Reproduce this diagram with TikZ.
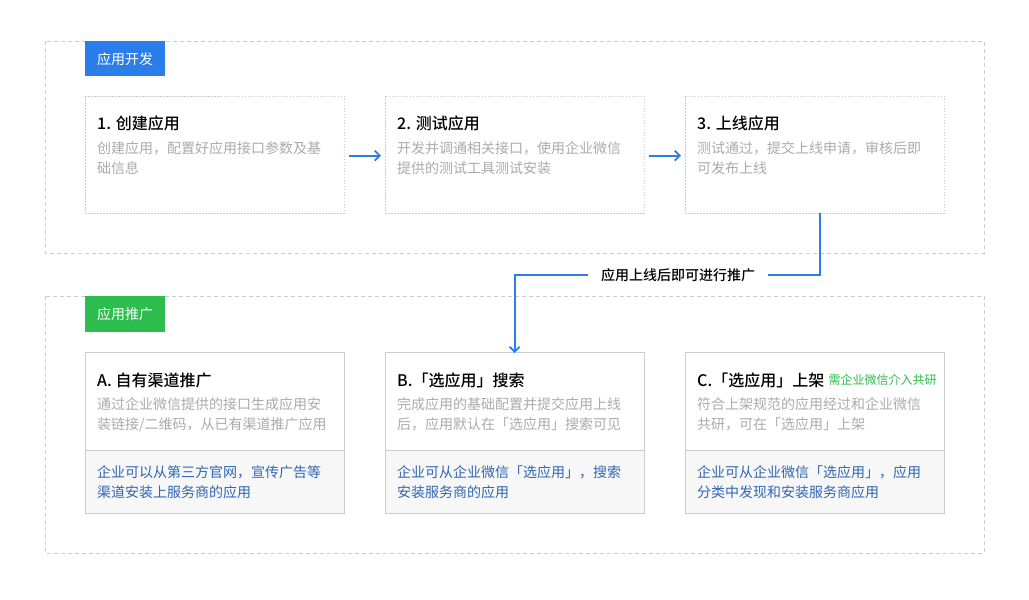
\documentclass[tikz,border=0pt]{standalone}
\usepackage{fontspec}
\setmainfont{Noto Sans CJK SC}
\newfontfamily\cjkmed{Noto Sans CJK SC Medium}
\usetikzlibrary{arrows.meta}
\definecolor{devblue}{HTML}{2B7DE9}
\definecolor{promgreen}{HTML}{2DBD4E}
\definecolor{bordergray}{HTML}{CCCCCC}
\definecolor{descgray}{HTML}{ABABAB}
\definecolor{linkblue}{HTML}{2F66B3}
\definecolor{footbg}{HTML}{F7F7F7}
\tikzset{
  x=1pt, y=-1pt,
  outerbox/.style={draw=bordergray, line width=0.8pt, dash pattern=on 4pt off 3pt},
  stepbox/.style={draw=bordergray, line width=0.7pt, dash pattern=on 1.5pt off 1.5pt},
  promobox/.style={draw=bordergray, line width=1pt},
  tag/.style={anchor=north west, minimum width=80pt, minimum height=35pt, inner sep=0pt, text=white, font=\fontsize{14}{16}\selectfont},
  ttl/.style={anchor=west, inner sep=0pt, font=\cjkmed\fontsize{16}{18}\selectfont, text=black},
  desc/.style={anchor=north west, inner sep=0pt, align=left, font=\fontsize{14}{20}\selectfont, text=descgray},
  link/.style={anchor=north west, inner sep=0pt, align=left, font=\fontsize{14}{20}\selectfont, text=linkblue},
  flow/.style={draw=devblue, line width=1.8pt, -{Straight Barb[length=5pt,width=10pt,line width=1.8pt]}},
}
\begin{document}
\begin{tikzpicture}
\useasboundingbox (0,0) rectangle (1029,600);
\fill[white] (0,0) rectangle (1029,600);

% outer sections
\draw[outerbox] (45,41) rectangle (984,253);
\draw[outerbox] (45,296) rectangle (984,553);
\node[tag, fill=devblue] (tagdev) at (85,41) {应用开发};
\node[tag, fill=promgreen, minimum height=36pt] (tagprom) at (85,296) {应用推广};

% development steps
\foreach \n/\x in {s1/85, s2/385, s3/685}{
  \draw[stepbox] (\x,96) rectangle ++(259,117);
  \node[inner sep=0pt, minimum width=259pt, minimum height=117pt, anchor=north west] (\n) at (\x,96) {};
}
\node[ttl] (s1t) at (97,123) {1. 创建应用};
\node[desc] (s1d) at (97,141) {创建应用，配置好应用接口参数及基\\础信息};
\node[ttl] (s2t) at (397,123) {2. 测试应用};
\node[desc] (s2d) at (397,141) {开发并调通相关接口，使用企业微信\\提供的测试工具测试安装};
\node[ttl] (s3t) at (697,123) {3. 上线应用};
\node[desc] (s3d) at (697,141) {测试通过，提交上线申请，审核后即\\可发布上线};

\draw[flow] ([xshift=5pt,yshift=-1pt]s1.east) -- ([xshift=-4pt,yshift=-1pt]s2.west);
\draw[flow] ([xshift=5pt,yshift=-1pt]s2.east) -- ([xshift=-4pt,yshift=-1pt]s3.west);

% promotion boxes
\foreach \n/\x in {pa/85, pb/385, pc/685}{
  \fill[footbg] (\x,450) rectangle ++(259,63);
  \draw[promobox] (\x,352) rectangle ++(259,161);
  \draw[promobox] (\x,450) -- ++(259,0);
  \node[inner sep=0pt, minimum width=259pt, minimum height=161pt, anchor=north west] (\n) at (\x,352) {};
}
\node[ttl] (pat) at (97,380) {A. 自有渠道推广};
\node[desc] (pad) at (97,397) {通过企业微信提供的接口生成应用安\\装链接/二维码，从已有渠道推广应用};
\node[link] (pal) at (97,465) {企业可以从第三方官网，宣传广告等\\渠道安装上服务商的应用};

\node[ttl] (pbt) at (397,380) {B.「选应用」搜索};
\node[desc] (pbd) at (397,397) {完成应用的基础配置并提交应用上线\\后，应用默认在「选应用」搜索可见};
\node[link] (pbl) at (397,465) {企业可从企业微信「选应用」，搜索\\安装服务商的应用};

\node[ttl] (pct) at (697,380) {C.「选应用」上架};
\node[anchor=west, inner sep=0pt, text=promgreen, font=\fontsize{12}{14}\selectfont] (pcn) at ([xshift=4pt]pct.east) {需企业微信介入共研};
\node[desc] (pcd) at (697,397) {符合上架规范的应用经过和企业微信\\共研，可在「选应用」上架};
\node[link] (pcl) at (697,465) {企业可从企业微信「选应用」，应用\\分类中发现和安装服务商应用};

% connector
\node[inner xsep=13pt, inner ysep=2pt, font=\cjkmed\fontsize{14}{16}\selectfont, text=black] (golive) at (678,275) {应用上线后即可进行推广};
\draw[draw=devblue, line width=1.8pt] ([xshift=5pt]s3.south) |- (golive.east);
\draw[flow] (golive.west) -| ([yshift=-1pt]pb.north);
\end{tikzpicture}
\end{document}
